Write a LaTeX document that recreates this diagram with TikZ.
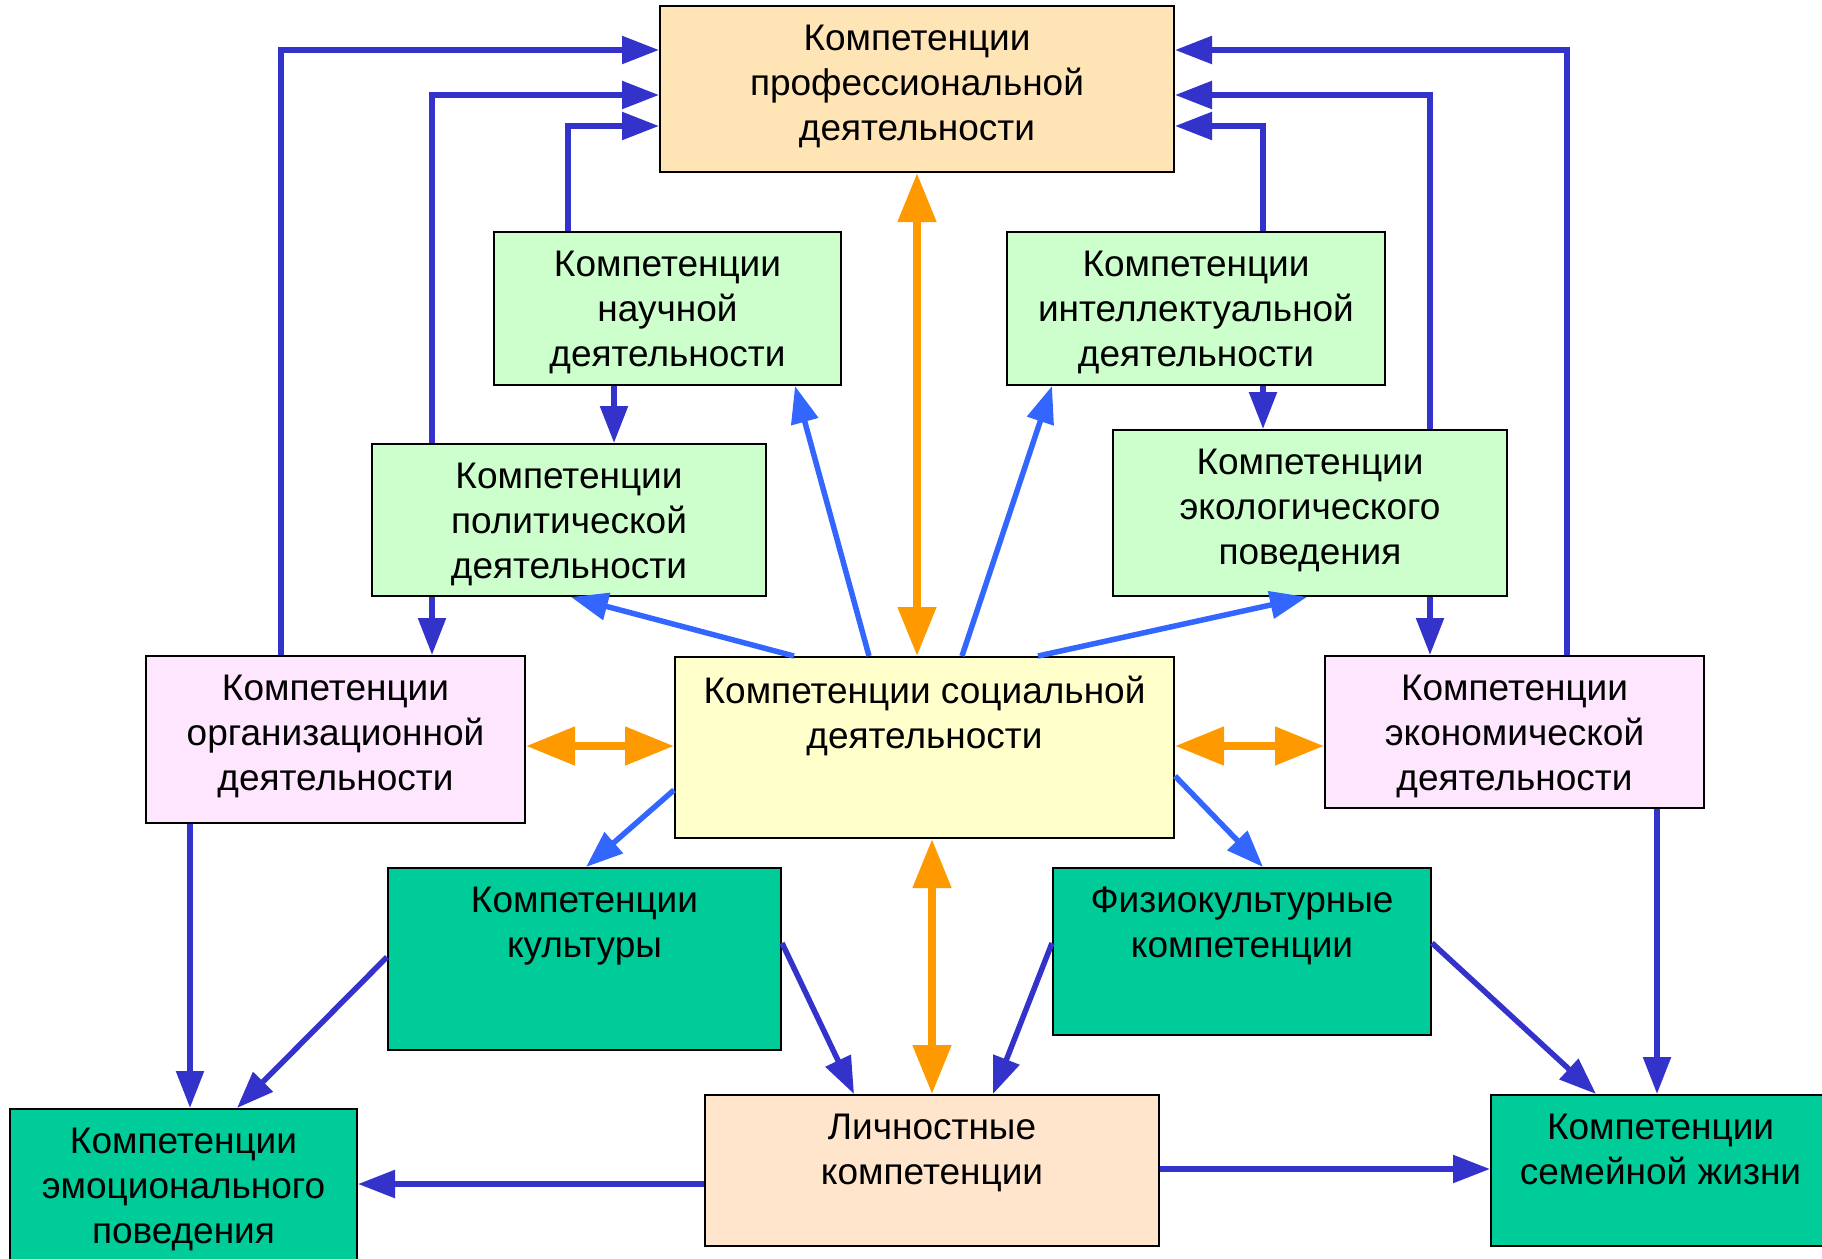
\documentclass[tikz,border=0pt]{standalone}
\usepackage{fontspec}
\setmainfont{Liberation Sans}
\usetikzlibrary{arrows.meta,calc}

\definecolor{profcol}{HTML}{FFE4B5}
\definecolor{greencol}{HTML}{CCFFCC}
\definecolor{pinkcol}{HTML}{FFE6FF}
\definecolor{socialcol}{HTML}{FFFFCC}
\definecolor{tealcol}{HTML}{00CC99}
\definecolor{personcol}{HTML}{FFE5CC}
\definecolor{dblue}{HTML}{3333CC}
\definecolor{lblue}{HTML}{3366FF}
\definecolor{orng}{HTML}{FF9900}

\begin{document}
\begin{tikzpicture}[
  x=1pt, y=-1pt,
  box/.style={draw, line width=2pt, inner sep=0pt},
  lbl/.style={anchor=north, yshift=-19.5pt, align=center, inner sep=0pt,
    font=\fontsize{37}{45}\selectfont},
  link/.style={draw=dblue, line width=5.5pt, -{Triangle[length=37pt, width=27pt]}},
  ray/.style={draw=lblue, line width=5.5pt, -{Triangle[length=37pt, width=27pt]}},
  both/.style={draw=orng, line width=8pt,
    {Triangle[length=49pt, width=37pt]}-{Triangle[length=49pt, width=37pt]}}
]
\useasboundingbox (0,0) rectangle (1822,1258);

% boxes
\node[box, fill=profcol, minimum width=514pt, minimum height=166pt,
  label={[lbl]north:{Компетенции\\профессиональной\\деятельности}}] (prof) at (917,89) {};
\node[box, fill=greencol, minimum width=347pt, minimum height=153pt,
  label={[lbl]north:{Компетенции\\научной\\деятельности}}] (sci) at (667.5,308.5) {};
\node[box, fill=greencol, minimum width=378pt, minimum height=153pt,
  label={[lbl]north:{Компетенции\\интеллектуальной\\деятельности}}] (intel) at (1196,308.5) {};
\node[box, fill=greencol, minimum width=394pt, minimum height=152pt,
  label={[lbl]north:{Компетенции\\политической\\деятельности}}] (polit) at (569,520) {};
\node[box, fill=greencol, minimum width=394pt, minimum height=166pt,
  label={[lbl]north:{Компетенции\\экологического\\поведения}}] (eco) at (1310,513) {};
\node[box, fill=pinkcol, minimum width=379pt, minimum height=167pt,
  label={[lbl]north:{Компетенции\\организационной\\деятельности}}] (org) at (335.5,739.5) {};
\node[box, fill=socialcol, minimum width=499pt, minimum height=181pt,
  label={[lbl]north:{Компетенции социальной\\деятельности}}] (soc) at (924.5,747.5) {};
\node[box, fill=pinkcol, minimum width=379pt, minimum height=152pt,
  label={[lbl]north:{Компетенции\\экономической\\деятельности}}] (econ) at (1514.5,732) {};
\node[box, fill=tealcol, minimum width=393pt, minimum height=182pt,
  label={[lbl]north:{Компетенции\\культуры}}] (cult) at (584.5,959) {};
\node[box, fill=tealcol, minimum width=378pt, minimum height=167pt,
  label={[lbl]north:{Физиокультурные\\компетенции}}] (phys) at (1242,951.5) {};
\node[box, fill=tealcol, minimum width=347pt, minimum height=153pt,
  label={[lbl]north:{Компетенции\\эмоционального\\поведения}}] (emo) at (183.5,1185.5) {};
\node[box, fill=personcol, minimum width=454pt, minimum height=151pt,
  label={[lbl]north:{Личностные\\компетенции}}] (pers) at (932,1170.5) {};
\node[box, fill=tealcol, minimum width=339pt, minimum height=151pt,
  label={[lbl]north:{Компетенции\\семейной жизни}}] (fam) at (1660.5,1170.5) {};

% into professional
\draw[link] ($(org.north west)+(136,0)$) |- ($(prof.north west)+(0,45)$);
\draw[link] ($(polit.north west)+(61,0)$) |- ($(prof.north west)+(0,90)$);
\draw[link] ($(sci.north west)+(75,0)$) |- ($(prof.north west)+(0,121)$);
\draw[link] ($(econ.north west)+(243,0)$) |- ($(prof.north east)+(0,45)$);
\draw[link] ($(eco.north west)+(318,0)$) |- ($(prof.north east)+(0,90)$);
\draw[link] ($(intel.north west)+(257,0)$) |- ($(prof.north east)+(0,121)$);

% downward
\draw[link] ($(sci.south west)+(121,0)$) -- ($(polit.north west)+(243,0)$);
\draw[link] ($(intel.south west)+(257,0)$) -- ($(eco.north west)+(151,0)$);
\draw[link] ($(polit.south west)+(61,0)$) -- ($(org.north west)+(287,0)$);
\draw[link] ($(eco.south west)+(318,0)$) -- ($(econ.north west)+(106,0)$);
\draw[link] ($(org.south west)+(45,0)$) -- ($(emo.north west)+(181,0)$);
\draw[link] ($(econ.south west)+(333,0)$) -- ($(fam.north west)+(167,0)$);
\draw[link] ($(cult.north west)+(0,90)$) -- ($(emo.north west)+(228,0)$);
\draw[link] ($(cult.north east)+(0,76)$) -- ($(pers.north west)+(150,0)$);
\draw[link] ($(phys.north west)+(0,76)$) -- ($(pers.north west)+(289,0)$);
\draw[link] ($(phys.north east)+(0,76)$) -- ($(fam.north west)+(106,0)$);
\draw[link] ($(pers.north west)+(0,90)$) -- ($(emo.north east)+(0,76)$);
\draw[link] ($(pers.north east)+(0,75)$) -- ($(fam.north west)+(0,75)$);

% from social
\draw[ray] ($(soc.north west)+(120,0)$) -- ($(polit.south west)+(200,0)$);
\draw[ray] ($(soc.north west)+(195,0)$) -- ($(sci.south west)+(302,0)$);
\draw[ray] ($(soc.north west)+(288,0)$) -- ($(intel.south west)+(46,0)$);
\draw[ray] ($(soc.north west)+(364,0)$) -- ($(eco.south west)+(195,0)$);
\draw[ray] ($(soc.north west)+(0,134)$) -- ($(cult.north west)+(199,0)$);
\draw[ray] ($(soc.north east)+(0,120)$) -- ($(phys.north west)+(211,0)$);

% two-way
\draw[both] (prof.south) -- (prof.south |- soc.north);
\draw[both] ($(org.north east)+(0,91)$) -- ($(soc.north west)+(0,90)$);
\draw[both] ($(soc.north east)+(0,90)$) -- ($(econ.north west)+(0,91)$);
\draw[both] (pers.north |- soc.south) -- (pers.north);
\end{tikzpicture}
\end{document}
